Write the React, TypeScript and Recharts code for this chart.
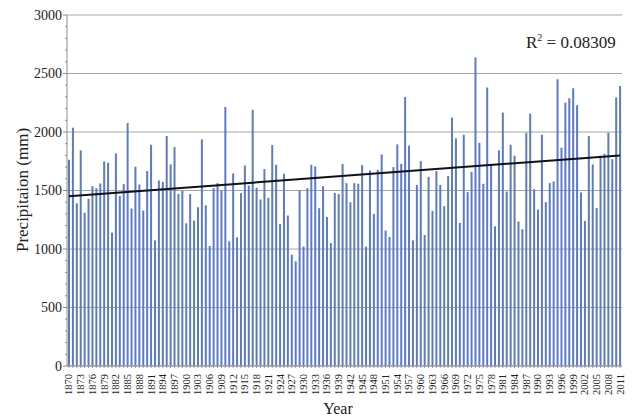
import { ComposedChart, Bar, Line, XAxis, YAxis, CartesianGrid, Label } from 'recharts';

const years: string[] = [
  '1870', '1871', '1872', '1873', '1874', '1875', '1876', '1877', '1878', '1879',
  '1880', '1881', '1882', '1883', '1884', '1885', '1886', '1887', '1888', '1889',
  '1890', '1891', '1892', '1893', '1894', '1895', '1896', '1897', '1898', '1899',
  '1900', '1901', '1902', '1903', '1904', '1905', '1906', '1907', '1908', '1909',
  '1910', '1911', '1912', '1913', '1914', '1915', '1916', '1917', '1918', '1919',
  '1920', '1921', '1922', '1923', '1924', '1925', '1926', '1927', '1928', '1929',
  '1930', '1931', '1932', '1933', '1934', '1935', '1936', '1937', '1938', '1939',
  '1940', '1941', '1942', '1943', '1944', '1945', '1946', '1947', '1948', '1949',
  '1950', '1951', '1952', '1953', '1954', '1955', '1956', '1957', '1958', '1959',
  '1960', '1961', '1962', '1963', '1964', '1965', '1966', '1967', '1968', '1969',
  '1970', '1971', '1972', '1973', '1974', '1975', '1976', '1977', '1978', '1979',
  '1980', '1981', '1982', '1983', '1984', '1985', '1986', '1987', '1988', '1989',
  '1990', '1991', '1992', '1993', '1994', '1995', '1996', '1997', '1998', '1999',
  '2000', '2001', '2002', '2003', '2004', '2005', '2006', '2007', '2008', '2009',
  '2010', '2011',
];

// annual precipitation (mm)
const precipitation: number[] = [
  1763, 2037, 1391, 1843, 1309, 1429, 1537, 1520, 1560, 1748,
  1737, 1140, 1817, 1454, 1554, 2077, 1346, 1703, 1551, 1329,
  1666, 1891, 1074, 1586, 1574, 1966, 1723, 1871, 1471, 1500,
  1220, 1469, 1243, 1357, 1937, 1374, 1026, 1520, 1563, 1500,
  2214, 1066, 1646, 1100, 1477, 1714, 1543, 2191, 1523, 1423,
  1683, 1437, 1888, 1720, 1214, 1643, 1286, 951, 894, 1503,
  1020, 1520, 1720, 1706, 1349, 1537, 1274, 1051, 1480, 1469,
  1726, 1563, 1400, 1563, 1557, 1717, 1020, 1671, 1300, 1677,
  1808, 1157, 1103, 1700, 1894, 1728, 2300, 1883, 1074, 1548,
  1751, 1120, 1617, 1326, 1666, 1548, 1366, 1623, 2123, 1946,
  1223, 1977, 1486, 1660, 2637, 1908, 1557, 2380, 1728, 1194,
  1843, 2166, 1491, 1891, 1797, 1234, 1169, 1994, 2157, 1511,
  1337, 1977, 1400, 1563, 1577, 2451, 1866, 2249, 2289, 2374,
  2228, 1483, 1240, 1966, 1723, 1351, 1797, 1814, 1994, 1768,
  2294, 2394,
];

// linear trend end points (first and last year)
const trendEnds: number[] = [1450, 1800];

const majorTicks: number[] = [0, 500, 1000, 1500, 2000, 2500, 3000];
const yTicks: number[] = [
  0, 100, 200, 300, 400, 500, 600, 700, 800, 900,
  1000, 1100, 1200, 1300, 1400, 1500, 1600, 1700, 1800, 1900,
  2000, 2100, 2200, 2300, 2400, 2500, 2600, 2700, 2800, 2900, 3000,
];

const FONT = '"Liberation Serif", "Times New Roman", serif';

const data = years.map((year, i) => ({
  year,
  value: precipitation[i],
  trend: i === 0 ? trendEnds[0] : i === years.length - 1 ? trendEnds[1] : null,
}));

function YTick(props: any) {
  const { x, y, payload } = props;
  const major = majorTicks.includes(payload.value);
  return (
    <g>
      <line x1={x - (major ? 4 : 2)} x2={x} y1={y} y2={y} stroke="#8c8c8c" />
      {major && (
        <text x={x - 5} y={y} textAnchor="end" dominantBaseline="central" fontSize={14} fontFamily={FONT} fill="#222">
          {payload.value}
        </text>
      )}
    </g>
  );
}

function XTick(props: any) {
  const { x, y, payload } = props;
  const showLabel = (Number(payload.value) - 1870) % 3 === 0;
  const ty = y + 8;
  return (
    <g>
      <line x1={x} x2={x} y1={y} y2={y + 2} stroke="#9a9a9a" />
      {showLabel && (
        <text
          x={x}
          y={ty}
          transform={`rotate(-90 ${x} ${ty})`}
          textAnchor="end"
          dominantBaseline="central"
          fontSize={10.5}
          fontFamily={FONT}
          fill="#222"
        >
          {payload.value}
        </text>
      )}
    </g>
  );
}

export default function App() {
  return (
    <div style={{ position: 'absolute', left: 0, top: 0, width: 633, height: 417, background: '#fff' }}>
      <ComposedChart
        width={633}
        height={417}
        data={data}
        margin={{ top: 15, right: 11, left: 0, bottom: 0 }}
        barCategoryGap="45%"
      >
        <CartesianGrid horizontal vertical={false} horizontalValues={majorTicks} stroke="#a6a6a6" />
        <XAxis
          dataKey="year"
          interval={0}
          height={51}
          tickSize={0}
          tickMargin={0}
          tickLine={false}
          tick={<XTick />}
          axisLine={{ stroke: '#9a9a9a' }}
        >
          <Label
            content={() => (
              <text x={338} y={414} textAnchor="middle" fontSize={16} fontFamily={FONT} fill="#222">
                Year
              </text>
            )}
          />
        </XAxis>
        <YAxis
          domain={[0, 3000]}
          ticks={yTicks}
          interval={0}
          width={67}
          tickSize={0}
          tickMargin={0}
          tickLine={false}
          tick={<YTick />}
          axisLine={{ stroke: '#8c8c8c' }}
        >
          <Label
            content={() => (
              <text
                x={22}
                y={190}
                transform="rotate(-90 22 190)"
                textAnchor="middle"
                dominantBaseline="central"
                fontSize={17}
                fontFamily={FONT}
                fill="#222"
              >
                Precipitaion (mm)
              </text>
            )}
          />
        </YAxis>
        <Bar dataKey="value" fill="#5d7ac4" barSize={2} isAnimationActive={false} />
        <Line
          dataKey="trend"
          stroke="#111"
          strokeWidth={2}
          dot={false}
          connectNulls
          isAnimationActive={false}
          legendType="none"
        />
      </ComposedChart>
      <div
        style={{
          position: 'absolute',
          left: 526,
          top: 33,
          fontFamily: FONT,
          fontSize: 17,
          color: '#222',
          whiteSpace: 'nowrap',
          lineHeight: '20px',
        }}
      >
        R<sup style={{ fontSize: 10, verticalAlign: 'top', lineHeight: '10px' }}>2</sup> = 0.08309
      </div>
    </div>
  );
}
